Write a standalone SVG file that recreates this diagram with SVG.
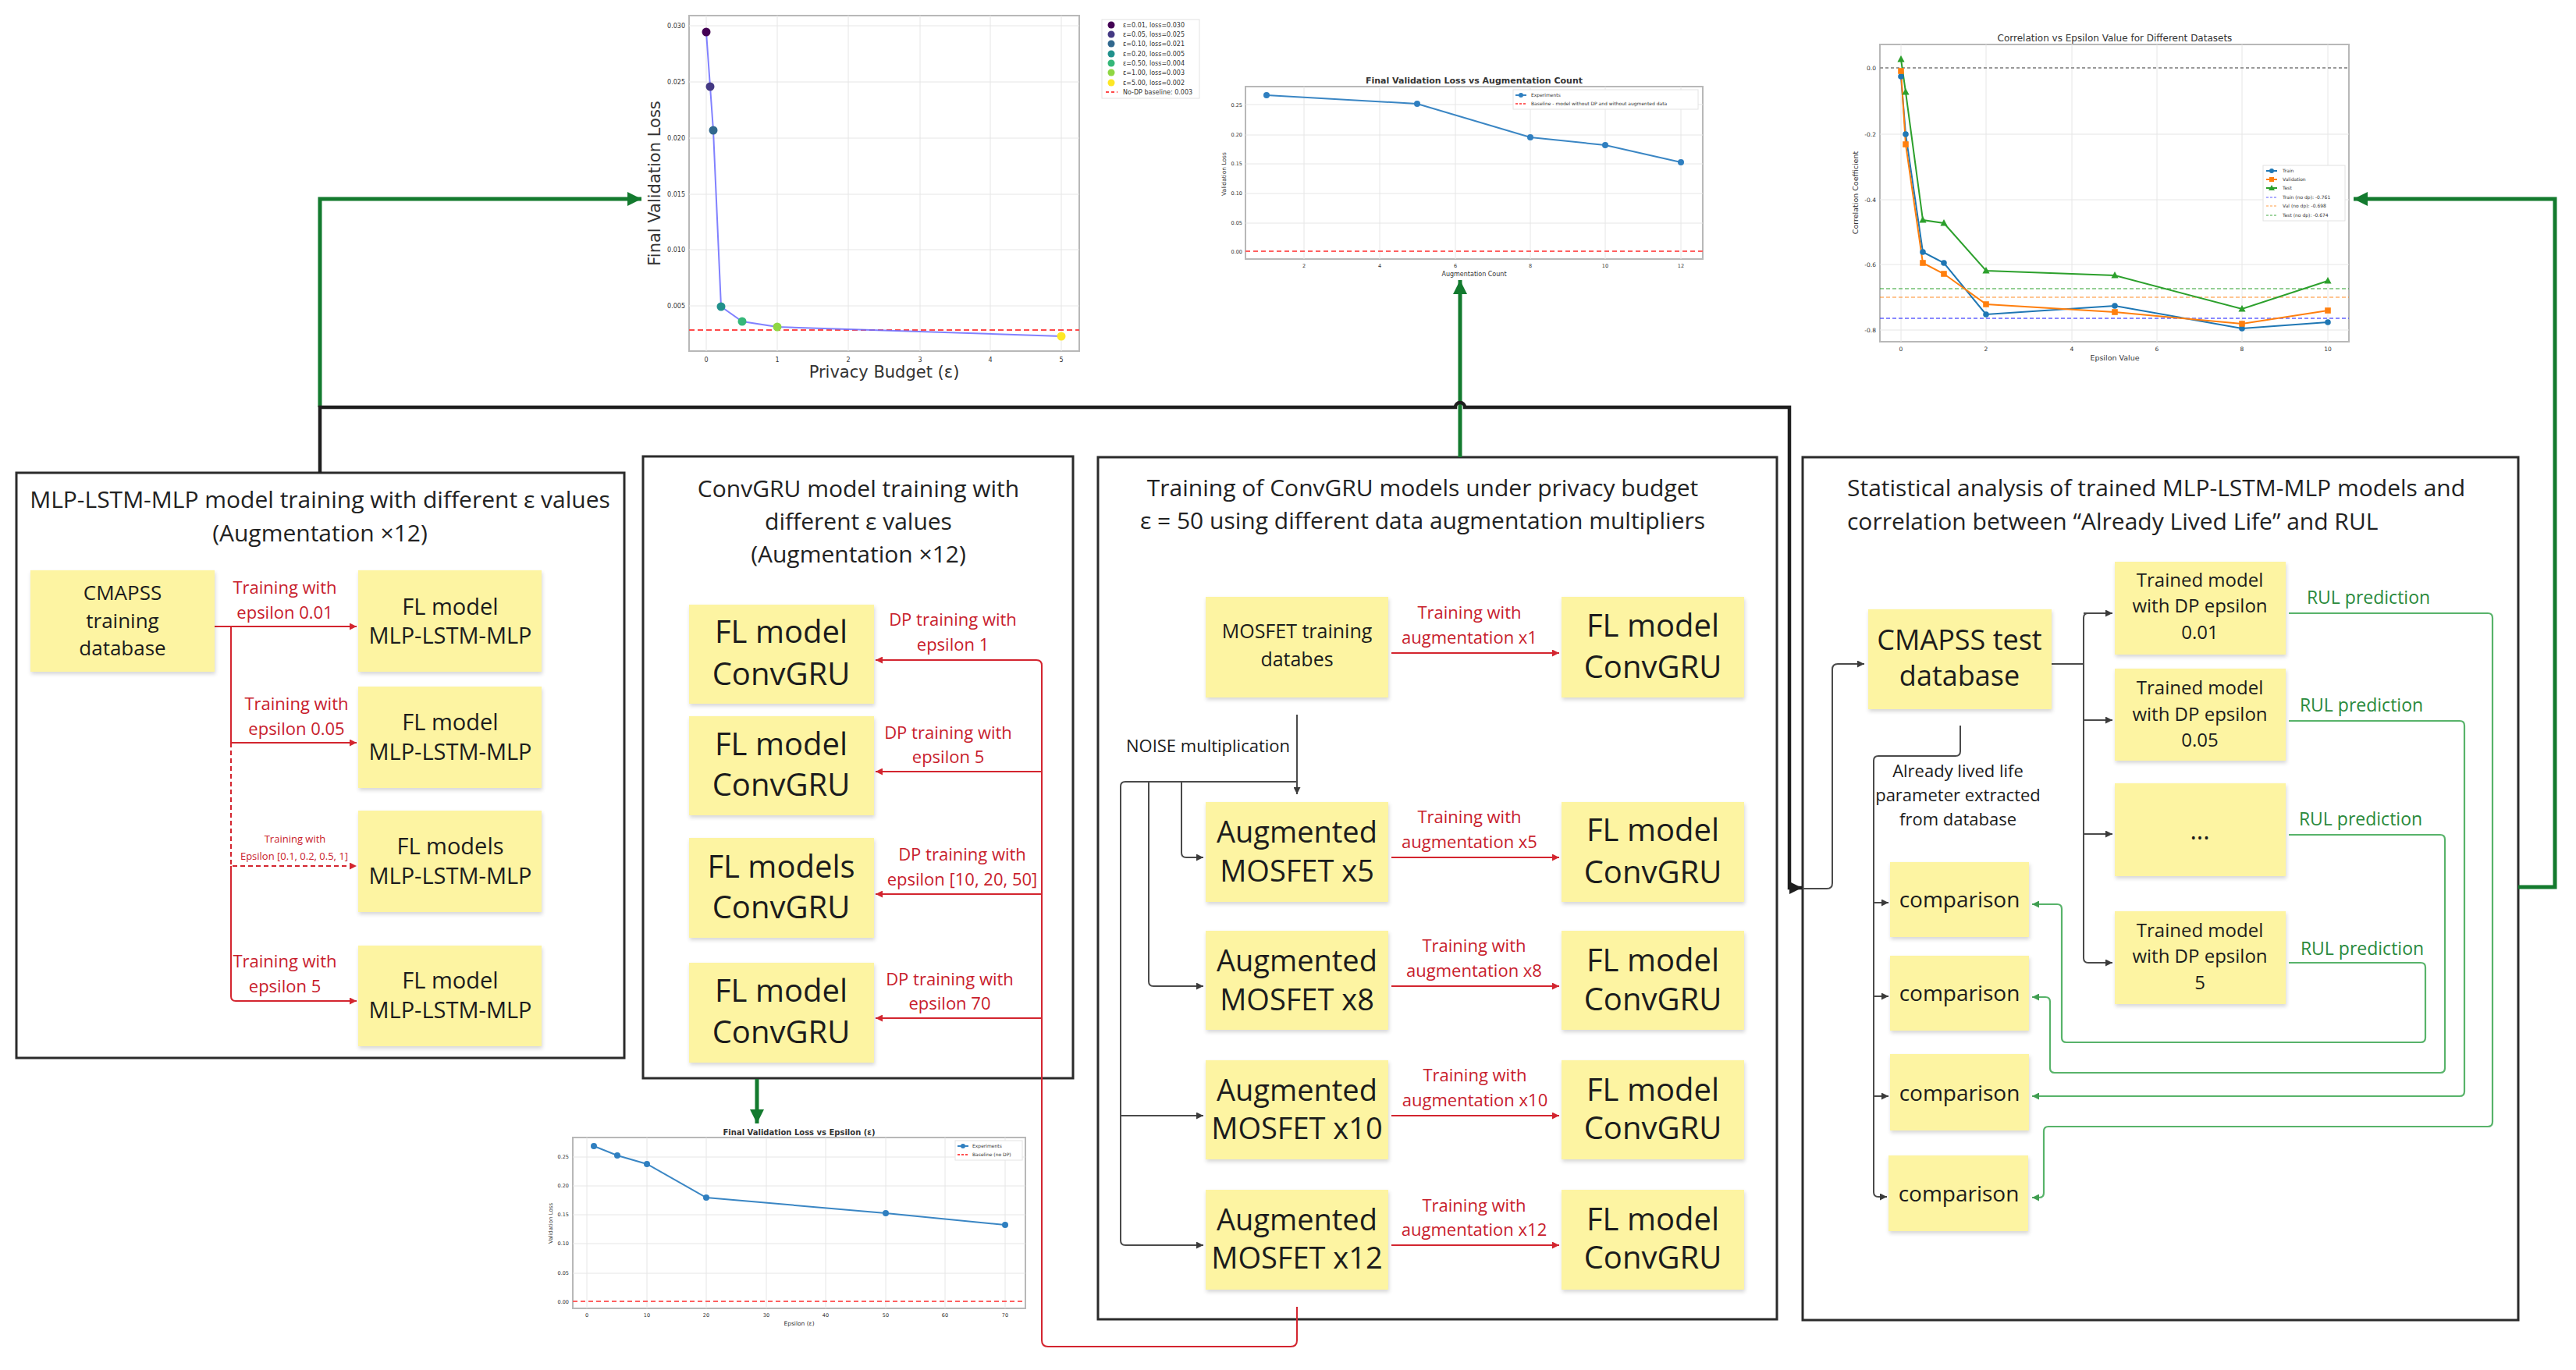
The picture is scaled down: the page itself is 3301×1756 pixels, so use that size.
<svg xmlns="http://www.w3.org/2000/svg" xmlns:xlink="http://www.w3.org/1999/xlink" width="3301" height="1756" viewBox="0 0 3301 1756">
<style>
.note{fill:#fdf4a2;filter:url(#sh)}
.nt{font-family:"Open Sans","Noto Sans",sans-serif;fill:#1c1c1c;text-anchor:middle}
.ttl{font-family:"Open Sans","Noto Sans",sans-serif;fill:#222;font-size:30px}
.panel{fill:none;stroke:#2b2b2b;stroke-width:3}
.rl{font-family:"Open Sans","Noto Sans",sans-serif;fill:#c8202c;text-anchor:middle;font-size:22px}
.rs{font-family:"Open Sans","Noto Sans",sans-serif;fill:#c8202c;text-anchor:middle;font-size:13px}
.gl{font-family:"Open Sans","Noto Sans",sans-serif;fill:#2a8a3c;text-anchor:middle;font-size:23px}
.red{fill:none;stroke:#d3252f;stroke-width:2}
.gry{fill:none;stroke:#4a4a4a;stroke-width:2}
.lgr{fill:none;stroke:#58b36a;stroke-width:2.2}
.blk{fill:none;stroke:#1e1e1e;stroke-width:4.5}
.grn{fill:none;stroke:#137a2e;stroke-width:5}
.ct{font-family:"DejaVu Sans","Liberation Sans",sans-serif;fill:#333}
.grid{stroke:#e6e6e6;stroke-width:1}
.frame{fill:#fff;stroke:#b8b8b8;stroke-width:2}
</style>
<defs>
<filter id="sh" x="-5%" y="-5%" width="112%" height="120%"><feDropShadow dx="1" dy="3" stdDeviation="2.5" flood-color="#000" flood-opacity="0.16"/></filter>
<marker id="aR" viewBox="0 0 10 10" refX="10" refY="5" markerWidth="10" markerHeight="9" markerUnits="userSpaceOnUse" orient="auto"><path d="M0,0 L10,5 L0,10 z" fill="#d3252f"/></marker>
<marker id="aG" viewBox="0 0 10 10" refX="10" refY="5" markerWidth="10" markerHeight="9" markerUnits="userSpaceOnUse" orient="auto"><path d="M0,0 L10,5 L0,10 z" fill="#3a3a3a"/></marker>
<marker id="aL" viewBox="0 0 10 10" refX="10" refY="5" markerWidth="10" markerHeight="9" markerUnits="userSpaceOnUse" orient="auto"><path d="M0,0 L10,5 L0,10 z" fill="#3f9d50"/></marker>
<marker id="aB" viewBox="0 0 10 10" refX="10" refY="5" markerWidth="18" markerHeight="16" markerUnits="userSpaceOnUse" orient="auto"><path d="M0,0 L10,5 L0,10 z" fill="#1e1e1e"/></marker>
<marker id="aK" viewBox="0 0 10 10" refX="10" refY="5" markerWidth="18" markerHeight="22" markerUnits="userSpaceOnUse" orient="auto"><path d="M0,0 L10,5 L0,10 z" fill="#137a2e"/></marker>
<path id="tri" d="M0,-5 L4.6,3.6 L-4.6,3.6 Z"/>
<rect id="sq" x="-3.8" y="-3.8" width="7.6" height="7.6"/>
</defs>
<rect x="0" y="0" width="3301" height="1756" fill="#fff"/>

<!-- Chart: Final validation loss vs privacy budget -->
<g id="chart-privacy">
<rect class="frame" x="883" y="20" width="500" height="430"/>
<g class="grid">
<line x1="905" y1="20" x2="905" y2="450"/><line x1="996" y1="20" x2="996" y2="450"/><line x1="1087" y1="20" x2="1087" y2="450"/><line x1="1179" y1="20" x2="1179" y2="450"/><line x1="1269" y1="20" x2="1269" y2="450"/><line x1="1360" y1="20" x2="1360" y2="450"/>
<line x1="883" y1="33" x2="1383" y2="33"/><line x1="883" y1="105" x2="1383" y2="105"/><line x1="883" y1="177" x2="1383" y2="177"/><line x1="883" y1="249" x2="1383" y2="249"/><line x1="883" y1="320" x2="1383" y2="320"/><line x1="883" y1="392" x2="1383" y2="392"/>
</g>
<g class="ct" font-size="8" text-anchor="end">
<text x="878" y="36">0.030</text><text x="878" y="108">0.025</text><text x="878" y="180">0.020</text><text x="878" y="252">0.015</text><text x="878" y="323">0.010</text><text x="878" y="395">0.005</text>
</g>
<g class="ct" font-size="8" text-anchor="middle">
<text x="905" y="464">0</text><text x="996" y="464">1</text><text x="1087" y="464">2</text><text x="1179" y="464">3</text><text x="1269" y="464">4</text><text x="1360" y="464">5</text>
</g>
<line x1="883" y1="423" x2="1383" y2="423" stroke="#ff4a4a" stroke-width="2" stroke-dasharray="7 4"/>
<polyline points="905,41 910,111 914,167 924,393 951,412 996,419 1360,431" fill="none" stroke="#6b6bff" stroke-width="2" opacity="0.85"/>
<circle cx="905" cy="41" r="5.5" fill="#440154"/><circle cx="910" cy="111" r="5.5" fill="#443983"/><circle cx="914" cy="167" r="5.5" fill="#31688e"/><circle cx="924" cy="393" r="5.5" fill="#21918c"/><circle cx="951" cy="412" r="5.5" fill="#35b779"/><circle cx="996" cy="419" r="5.5" fill="#90d743"/><circle cx="1360" cy="431" r="5.5" fill="#fde725"/>
<rect x="1412" y="25" width="125" height="101" fill="#fff" stroke="#e2e2e2" stroke-width="1"/>
<circle cx="1424" cy="32" r="4.5" fill="#440154"/><circle cx="1424" cy="44" r="4.5" fill="#443983"/><circle cx="1424" cy="56" r="4.5" fill="#31688e"/><circle cx="1424" cy="69" r="4.5" fill="#21918c"/><circle cx="1424" cy="81" r="4.5" fill="#35b779"/><circle cx="1424" cy="93" r="4.5" fill="#90d743"/><circle cx="1424" cy="106" r="4.5" fill="#fde725"/>
<line x1="1417" y1="118" x2="1432" y2="118" stroke="#ff4a4a" stroke-width="2" stroke-dasharray="4 3"/>
<g class="ct" font-size="8">
<text x="1439" y="35">ε=0.01, loss=0.030</text><text x="1439" y="47">ε=0.05, loss=0.025</text><text x="1439" y="59">ε=0.10, loss=0.021</text><text x="1439" y="72">ε=0.20, loss=0.005</text><text x="1439" y="84">ε=0.50, loss=0.004</text><text x="1439" y="96">ε=1.00, loss=0.003</text><text x="1439" y="109">ε=5.00, loss=0.002</text><text x="1439" y="121">No-DP baseline: 0.003</text>
</g>
<text class="ct" font-size="21" text-anchor="middle" x="1133" y="484">Privacy Budget (ε)</text>
<text class="ct" font-size="21" text-anchor="middle" transform="translate(846,235) rotate(-90)">Final Validation Loss</text>
</g>

<!-- Chart: Final validation loss vs augmentation count -->
<g id="chart-augmentation">
<text class="ct" font-size="11" font-weight="bold" text-anchor="middle" x="1889" y="107" fill="#111">Final Validation Loss vs Augmentation Count</text>
<rect class="frame" x="1596" y="111" width="586" height="221"/>
<g class="grid">
<line x1="1671" y1="111" x2="1671" y2="332"/><line x1="1768" y1="111" x2="1768" y2="332"/><line x1="1865" y1="111" x2="1865" y2="332"/><line x1="1961" y1="111" x2="1961" y2="332"/><line x1="2057" y1="111" x2="2057" y2="332"/><line x1="2154" y1="111" x2="2154" y2="332"/>
<line x1="1596" y1="134" x2="2182" y2="134"/><line x1="1596" y1="173" x2="2182" y2="173"/><line x1="1596" y1="210" x2="2182" y2="210"/><line x1="1596" y1="248" x2="2182" y2="248"/><line x1="1596" y1="286" x2="2182" y2="286"/>
</g>
<g class="ct" font-size="6.5" text-anchor="end">
<text x="1592" y="137">0.25</text><text x="1592" y="175">0.20</text><text x="1592" y="212">0.15</text><text x="1592" y="250">0.10</text><text x="1592" y="288">0.05</text><text x="1592" y="325">0.00</text>
</g>
<g class="ct" font-size="6.5" text-anchor="middle">
<text x="1671" y="343">2</text><text x="1768" y="343">4</text><text x="1865" y="343">6</text><text x="1961" y="343">8</text><text x="2057" y="343">10</text><text x="2154" y="343">12</text>
</g>
<line x1="1596" y1="322" x2="2182" y2="322" stroke="#ff6060" stroke-width="2" stroke-dasharray="6 4"/>
<polyline points="1623,122 1816,133 1961,176 2057,186 2154,208" fill="none" stroke="#3a86c4" stroke-width="2"/>
<g fill="#2f7fc0"><circle cx="1623" cy="122" r="4"/><circle cx="1816" cy="133" r="4"/><circle cx="1961" cy="176" r="4"/><circle cx="2057" cy="186" r="4"/><circle cx="2154" cy="208" r="4"/></g>
<rect x="1939" y="115" width="237" height="25" fill="#fff" stroke="#e4e4e4" stroke-width="1"/>
<line x1="1942" y1="122" x2="1956" y2="122" stroke="#3a86c4" stroke-width="2"/><circle cx="1949" cy="122" r="3" fill="#2f7fc0"/>
<line x1="1942" y1="133" x2="1956" y2="133" stroke="#ff6060" stroke-width="2" stroke-dasharray="3 2"/>
<g class="ct" font-size="6"><text x="1962" y="124">Experiments</text><text x="1962" y="135">Baseline - model without DP and without augmented data</text></g>
<text class="ct" font-size="8" text-anchor="middle" x="1889" y="354">Augmentation Count</text>
<text class="ct" font-size="7.5" text-anchor="middle" transform="translate(1571,223) rotate(-90)">Validation Loss</text>
</g>

<!-- Chart: Correlation vs epsilon -->
<g id="chart-correlation">
<text class="ct" font-size="12" text-anchor="middle" x="2710" y="53">Correlation vs Epsilon Value for Different Datasets</text>
<rect class="frame" x="2409" y="57" width="601" height="381"/>
<g class="grid">
<line x1="2436" y1="57" x2="2436" y2="438"/><line x1="2545" y1="57" x2="2545" y2="438"/><line x1="2655" y1="57" x2="2655" y2="438"/><line x1="2764" y1="57" x2="2764" y2="438"/><line x1="2873" y1="57" x2="2873" y2="438"/><line x1="2983" y1="57" x2="2983" y2="438"/>
<line x1="2409" y1="172" x2="3010" y2="172"/><line x1="2409" y1="256" x2="3010" y2="256"/><line x1="2409" y1="339" x2="3010" y2="339"/><line x1="2409" y1="423" x2="3010" y2="423"/>
</g>
<g class="ct" font-size="7.5" text-anchor="end">
<text x="2404" y="90">0.0</text><text x="2404" y="175">-0.2</text><text x="2404" y="259">-0.4</text><text x="2404" y="342">-0.6</text><text x="2404" y="426">-0.8</text>
</g>
<g class="ct" font-size="7.5" text-anchor="middle">
<text x="2436" y="450">0</text><text x="2545" y="450">2</text><text x="2655" y="450">4</text><text x="2764" y="450">6</text><text x="2873" y="450">8</text><text x="2983" y="450">10</text>
</g>
<line x1="2409" y1="87" x2="3010" y2="87" stroke="#9a9a9a" stroke-width="2" stroke-dasharray="4 3"/>
<line x1="2409" y1="370" x2="3010" y2="370" stroke="#2ca02c" stroke-width="2" stroke-dasharray="5 3" opacity="0.5"/>
<line x1="2409" y1="381" x2="3010" y2="381" stroke="#ff7f0e" stroke-width="2" stroke-dasharray="5 3" opacity="0.45"/>
<line x1="2409" y1="408" x2="3010" y2="408" stroke="#4a4aff" stroke-width="2" stroke-dasharray="5 3" opacity="0.65"/>
<polyline points="2436,98 2442,172 2464,323 2491,337 2545,403 2710,392 2873,421 2983,413" fill="none" stroke="#1f77b4" stroke-width="2"/>
<polyline points="2436,91 2442,185 2464,337 2491,351 2545,390 2710,400 2873,415 2983,398" fill="none" stroke="#ff7f0e" stroke-width="2"/>
<polyline points="2436,76 2442,118 2464,282 2491,286 2545,347 2710,353 2873,396 2983,360" fill="none" stroke="#2ca02c" stroke-width="2"/>
<g fill="#1f77b4"><circle cx="2436" cy="98" r="3.8"/><circle cx="2442" cy="172" r="3.8"/><circle cx="2464" cy="323" r="3.8"/><circle cx="2491" cy="337" r="3.8"/><circle cx="2545" cy="403" r="3.8"/><circle cx="2710" cy="392" r="3.8"/><circle cx="2873" cy="421" r="3.8"/><circle cx="2983" cy="413" r="3.8"/></g>
<g fill="#ff7f0e"><use href="#sq" x="2436" y="91"/><use href="#sq" x="2442" y="185"/><use href="#sq" x="2464" y="337"/><use href="#sq" x="2491" y="351"/><use href="#sq" x="2545" y="390"/><use href="#sq" x="2710" y="400"/><use href="#sq" x="2873" y="415"/><use href="#sq" x="2983" y="398"/></g>
<g fill="#2ca02c"><use href="#tri" x="2436" y="76"/><use href="#tri" x="2442" y="118"/><use href="#tri" x="2464" y="282"/><use href="#tri" x="2491" y="286"/><use href="#tri" x="2545" y="347"/><use href="#tri" x="2710" y="353"/><use href="#tri" x="2873" y="396"/><use href="#tri" x="2983" y="360"/></g>
<rect x="2900" y="212" width="105" height="71" fill="#fff" stroke="#e2e2e2" stroke-width="1"/>
<line x1="2904" y1="219" x2="2918" y2="219" stroke="#1f77b4" stroke-width="2"/><circle cx="2911" cy="219" r="3" fill="#1f77b4"/>
<line x1="2904" y1="230" x2="2918" y2="230" stroke="#ff7f0e" stroke-width="2"/><rect x="2908" y="227" width="6" height="6" fill="#ff7f0e"/>
<line x1="2904" y1="241" x2="2918" y2="241" stroke="#2ca02c" stroke-width="2"/><path d="M2911,237 L2915,244 L2907,244 Z" fill="#2ca02c"/>
<line x1="2904" y1="253" x2="2918" y2="253" stroke="#4a4aff" stroke-width="1.5" stroke-dasharray="3 2" opacity="0.6"/>
<line x1="2904" y1="264" x2="2918" y2="264" stroke="#ff7f0e" stroke-width="1.5" stroke-dasharray="3 2" opacity="0.5"/>
<line x1="2904" y1="276" x2="2918" y2="276" stroke="#2ca02c" stroke-width="1.5" stroke-dasharray="3 2" opacity="0.6"/>
<g class="ct" font-size="6"><text x="2925" y="221">Train</text><text x="2925" y="232">Validation</text><text x="2925" y="243">Test</text><text x="2925" y="255">Train (no dp): -0.761</text><text x="2925" y="266">Val (no dp): -0.698</text><text x="2925" y="278">Test (no dp): -0.674</text></g>
<text class="ct" font-size="9.5" text-anchor="middle" x="2710" y="462">Epsilon Value</text>
<text class="ct" font-size="9.5" text-anchor="middle" transform="translate(2381,247) rotate(-90)">Correlation Coefficient</text>
</g>

<!-- Chart: Final validation loss vs epsilon (ConvGRU) -->
<g id="chart-epsilon">
<text class="ct" font-size="10" font-weight="bold" text-anchor="middle" x="1024" y="1455" fill="#111">Final Validation Loss vs Epsilon (ε)</text>
<rect class="frame" x="734" y="1458" width="580" height="219"/>
<g class="grid">
<line x1="752" y1="1458" x2="752" y2="1677"/><line x1="829" y1="1458" x2="829" y2="1677"/><line x1="905" y1="1458" x2="905" y2="1677"/><line x1="982" y1="1458" x2="982" y2="1677"/><line x1="1058" y1="1458" x2="1058" y2="1677"/><line x1="1135" y1="1458" x2="1135" y2="1677"/><line x1="1211" y1="1458" x2="1211" y2="1677"/><line x1="1288" y1="1458" x2="1288" y2="1677"/>
<line x1="734" y1="1483" x2="1314" y2="1483"/><line x1="734" y1="1520" x2="1314" y2="1520"/><line x1="734" y1="1557" x2="1314" y2="1557"/><line x1="734" y1="1594" x2="1314" y2="1594"/><line x1="734" y1="1632" x2="1314" y2="1632"/>
</g>
<g class="ct" font-size="6.5" text-anchor="end">
<text x="729" y="1485">0.25</text><text x="729" y="1522">0.20</text><text x="729" y="1559">0.15</text><text x="729" y="1596">0.10</text><text x="729" y="1634">0.05</text><text x="729" y="1671">0.00</text>
</g>
<g class="ct" font-size="6.5" text-anchor="middle">
<text x="752" y="1688">0</text><text x="829" y="1688">10</text><text x="905" y="1688">20</text><text x="982" y="1688">30</text><text x="1058" y="1688">40</text><text x="1135" y="1688">50</text><text x="1211" y="1688">60</text><text x="1288" y="1688">70</text>
</g>
<line x1="734" y1="1668" x2="1314" y2="1668" stroke="#ff6060" stroke-width="2" stroke-dasharray="6 4"/>
<polyline points="761,1469 791,1481 829,1492 905,1535 1135,1555 1288,1570" fill="none" stroke="#3a86c4" stroke-width="2"/>
<g fill="#2f7fc0"><circle cx="761" cy="1469" r="4"/><circle cx="791" cy="1481" r="4"/><circle cx="829" cy="1492" r="4"/><circle cx="905" cy="1535" r="4"/><circle cx="1135" cy="1555" r="4"/><circle cx="1288" cy="1570" r="4"/></g>
<rect x="1224" y="1462" width="86" height="25" fill="#fff" stroke="#e4e4e4" stroke-width="1"/>
<line x1="1227" y1="1469" x2="1241" y2="1469" stroke="#3a86c4" stroke-width="2"/><circle cx="1234" cy="1469" r="3" fill="#2f7fc0"/>
<line x1="1227" y1="1480" x2="1241" y2="1480" stroke="#ff4a4a" stroke-width="2" stroke-dasharray="3 2"/>
<g class="ct" font-size="6"><text x="1246" y="1471">Experiments</text><text x="1246" y="1482">Baseline (no DP)</text></g>
<text class="ct" font-size="7.5" text-anchor="middle" x="1024" y="1699">Epsilon (ε)</text>
<text class="ct" font-size="7" text-anchor="middle" transform="translate(708,1568) rotate(-90)">Validation Loss</text>
</g>

<!-- Panels -->
<g id="panel-mlp">
<rect class="panel" x="21" y="606" width="779" height="750"/>
<text class="ttl" text-anchor="middle" x="410" y="651">MLP-LSTM-MLP model training with different ε values</text>
<text class="ttl" text-anchor="middle" x="410" y="694">(Augmentation ×12)</text>
</g>
<g id="panel-convgru">
<rect class="panel" x="824" y="585" width="551" height="797"/>
<text class="ttl" text-anchor="middle" x="1100" y="637">ConvGRU model training with</text>
<text class="ttl" text-anchor="middle" x="1100" y="679">different ε values</text>
<text class="ttl" text-anchor="middle" x="1100" y="721">(Augmentation ×12)</text>
</g>
<g id="panel-augmentation">
<rect class="panel" x="1407" y="586" width="870" height="1105"/>
<text class="ttl" text-anchor="middle" x="1823" y="636">Training of ConvGRU models under privacy budget</text>
<text class="ttl" text-anchor="middle" x="1823" y="678">ε = 50 using different data augmentation multipliers</text>
</g>
<g id="panel-statistics">
<rect class="panel" x="2310" y="586" width="917" height="1106"/>
<text class="ttl" x="2367" y="636">Statistical analysis of trained MLP-LSTM-MLP models and</text>
<text class="ttl" x="2367" y="679">correlation between “Already Lived Life” and RUL</text>
</g>

<!-- Connectors -->
<g id="connectors">
<path class="grn" d="M410,522 V255 H822" marker-end="url(#aK)"/>
<path class="grn" d="M1871,586 V359" marker-end="url(#aK)"/>
<path class="grn" d="M3227,1137 H3274 V255 H3016" marker-end="url(#aK)"/>
<path class="grn" d="M970,1383 V1440" marker-end="url(#aK)"/>
<path class="blk" d="M410,606 V522 H1865 a6,6 0 0 1 12,0 H2293 V1138 H2309" marker-end="url(#aB)"/>
<path class="gry" stroke-width="2.5" d="M2310,1139 H2341 Q2348,1139 2348,1132 V858 Q2348,851 2355,851 H2389" marker-end="url(#aG)"/>

<path class="red" d="M275,803 H457" marker-end="url(#aR)"/>
<path class="red" d="M296,803 V952 H457" marker-end="url(#aR)"/>
<path class="red" d="M296,952 V1110 H457" stroke-dasharray="6 4" marker-end="url(#aR)"/>
<path class="red" d="M296,1110 V1277 Q296,1283 302,1283 H457" marker-end="url(#aR)"/>

<path class="red" d="M1662,1675 V1718 Q1662,1726 1654,1726 H1343 Q1335,1726 1335,1718 V853 Q1335,846 1328,846 H1122" marker-end="url(#aR)"/>
<path class="red" d="M1335,989 H1122" marker-end="url(#aR)"/>
<path class="red" d="M1335,1146 H1122" marker-end="url(#aR)"/>
<path class="red" d="M1335,1305 H1122" marker-end="url(#aR)"/>

<path class="red" d="M1783,837 H1998" marker-end="url(#aR)"/>
<path class="red" d="M1783,1099 H1998" marker-end="url(#aR)"/>
<path class="red" d="M1783,1264 H1998" marker-end="url(#aR)"/>
<path class="red" d="M1783,1430 H1998" marker-end="url(#aR)"/>
<path class="red" d="M1783,1596 H1998" marker-end="url(#aR)"/>

<path class="gry" d="M1662,916 V1018" marker-end="url(#aG)"/>
<path class="gry" d="M1662,1002 H1442 Q1436,1002 1436,1008 V1590 Q1436,1596 1442,1596 H1542" marker-end="url(#aG)"/>
<path class="gry" d="M1514,1002 V1093 Q1514,1099 1520,1099 H1542" marker-end="url(#aG)"/>
<path class="gry" d="M1472,1002 V1258 Q1472,1264 1478,1264 H1542" marker-end="url(#aG)"/>
<path class="gry" d="M1436,1430 H1542" marker-end="url(#aG)"/>

<path class="gry" stroke-width="3.5" d="M2629,851 H2670"/>
<path class="gry" d="M2707,786 H2676 Q2670,786 2670,792 V1228 Q2670,1234 2676,1234 H2707" marker-end="url(#aG)"/>
<path class="gry" d="M2670,786 H2707" marker-end="url(#aG)"/>
<path class="gry" d="M2670,923 H2707" marker-end="url(#aG)"/>
<path class="gry" d="M2670,1069 H2707" marker-end="url(#aG)"/>

<path class="gry" stroke-width="2.5" d="M2512,930 V963 Q2512,969 2506,969 H2407 Q2401,969 2401,975 V1528 Q2401,1534 2407,1534 H2418" marker-end="url(#aG)"/>
<path class="gry" d="M2401,1157 H2420" marker-end="url(#aG)"/>
<path class="gry" d="M2401,1277 H2420" marker-end="url(#aG)"/>
<path class="gry" d="M2401,1405 H2420" marker-end="url(#aG)"/>

<path class="lgr" d="M2933,786 H3188 Q3194,786 3194,792 V1438 Q3194,1444 3188,1444 H2625 Q2619,1444 2619,1450 V1529 Q2619,1535 2613,1535 H2604" marker-end="url(#aL)"/>
<path class="lgr" d="M2933,924 H3152 Q3158,924 3158,930 V1399 Q3158,1405 3152,1405 H2604" marker-end="url(#aL)"/>
<path class="lgr" d="M2933,1070 H3127 Q3133,1070 3133,1076 V1369 Q3133,1375 3127,1375 H2633 Q2627,1375 2627,1369 V1284 Q2627,1278 2621,1278 H2604" marker-end="url(#aL)"/>
<path class="lgr" d="M2933,1234 H3102 Q3108,1234 3108,1240 V1330 Q3108,1336 3102,1336 H2648 Q2642,1336 2642,1330 V1165 Q2642,1159 2636,1159 H2604" marker-end="url(#aL)"/>

<text class="rl" x="365" y="761">Training with</text><text class="rl" x="365" y="793">epsilon 0.01</text>
<text class="rl" x="380" y="910">Training with</text><text class="rl" x="380" y="942">epsilon 0.05</text>
<text class="rs" x="378" y="1080">Training with</text><text class="rs" x="377" y="1102">Epsilon [0.1, 0.2, 0.5, 1]</text>
<text class="rl" x="365" y="1240">Training with</text><text class="rl" x="365" y="1272">epsilon 5</text>

<text class="rl" x="1221" y="802">DP training with</text><text class="rl" x="1221" y="834">epsilon 1</text>
<text class="rl" x="1215" y="947">DP training with</text><text class="rl" x="1215" y="978">epsilon 5</text>
<text class="rl" x="1233" y="1103">DP training with</text><text class="rl" x="1233" y="1135">epsilon [10, 20, 50]</text>
<text class="rl" x="1217" y="1263">DP training with</text><text class="rl" x="1217" y="1294">epsilon 70</text>

<text class="rl" x="1883" y="793">Training with</text><text class="rl" x="1883" y="825">augmentation x1</text>
<text class="rl" x="1883" y="1055">Training with</text><text class="rl" x="1883" y="1087">augmentation x5</text>
<text class="rl" x="1889" y="1220">Training with</text><text class="rl" x="1889" y="1252">augmentation x8</text>
<text class="rl" x="1890" y="1386">Training with</text><text class="rl" x="1890" y="1418">augmentation x10</text>
<text class="rl" x="1889" y="1553">Training with</text><text class="rl" x="1889" y="1584">augmentation x12</text>

<text class="nt" x="1548" y="964" font-size="22">NOISE multiplication</text>
<text class="nt" x="2509" y="996" font-size="22">Already lived life</text>
<text class="nt" x="2509" y="1027" font-size="22">parameter extracted</text>
<text class="nt" x="2509" y="1058" font-size="22">from database</text>

<text class="gl" x="3035" y="774">RUL prediction</text>
<text class="gl" x="3026" y="912">RUL prediction</text>
<text class="gl" x="3025" y="1058">RUL prediction</text>
<text class="gl" x="3027" y="1224">RUL prediction</text>
</g>

<!-- Nodes: MLP panel -->
<g id="cmapss-train"><rect class="note" x="39" y="731" width="236" height="130"/><text class="nt" font-size="26" x="157" y="769">CMAPSS</text><text class="nt" font-size="26" x="157" y="805">training</text><text class="nt" font-size="26" x="157" y="840">database</text></g>
<g id="mlp-1"><rect class="note" x="459" y="731" width="235" height="130"/><text class="nt" font-size="29" x="577" y="788">FL model</text><text class="nt" font-size="29" x="577" y="825">MLP-LSTM-MLP</text></g>
<g id="mlp-2"><rect class="note" x="459" y="880" width="235" height="130"/><text class="nt" font-size="29" x="577" y="936">FL model</text><text class="nt" font-size="29" x="577" y="974">MLP-LSTM-MLP</text></g>
<g id="mlp-3"><rect class="note" x="459" y="1039" width="235" height="130"/><text class="nt" font-size="29" x="577" y="1095">FL models</text><text class="nt" font-size="29" x="577" y="1133">MLP-LSTM-MLP</text></g>
<g id="mlp-4"><rect class="note" x="459" y="1212" width="235" height="129"/><text class="nt" font-size="29" x="577" y="1267">FL model</text><text class="nt" font-size="29" x="577" y="1305">MLP-LSTM-MLP</text></g>

<!-- Nodes: ConvGRU panel -->
<g id="cg-1"><rect class="note" x="883" y="775" width="237" height="127"/><text class="nt" font-size="40" x="1001" y="824">FL model</text><text class="nt" font-size="40" x="1001" y="878">ConvGRU</text></g>
<g id="cg-2"><rect class="note" x="883" y="918" width="237" height="127"/><text class="nt" font-size="40" x="1001" y="968">FL model</text><text class="nt" font-size="40" x="1001" y="1020">ConvGRU</text></g>
<g id="cg-3"><rect class="note" x="883" y="1074" width="237" height="128"/><text class="nt" font-size="40" x="1001" y="1125">FL models</text><text class="nt" font-size="40" x="1001" y="1177">ConvGRU</text></g>
<g id="cg-4"><rect class="note" x="883" y="1234" width="237" height="128"/><text class="nt" font-size="40" x="1001" y="1284">FL model</text><text class="nt" font-size="40" x="1001" y="1337">ConvGRU</text></g>

<!-- Nodes: augmentation panel -->
<g id="mosfet-db"><rect class="note" x="1545" y="765" width="234" height="129"/><text class="nt" font-size="25" x="1662" y="818">MOSFET training</text><text class="nt" font-size="25" x="1662" y="854">databes</text></g>
<g id="aug-fl-1"><rect class="note" x="2001" y="765" width="234" height="129"/><text class="nt" font-size="40" x="2118" y="816">FL model</text><text class="nt" font-size="40" x="2118" y="869">ConvGRU</text></g>
<g id="aug-5"><rect class="note" x="1545" y="1028" width="234" height="128"/><text class="nt" font-size="38" x="1662" y="1080">Augmented</text><text class="nt" font-size="38" x="1662" y="1130">MOSFET x5</text></g>
<g id="aug-fl-5"><rect class="note" x="2001" y="1028" width="234" height="128"/><text class="nt" font-size="40" x="2118" y="1078">FL model</text><text class="nt" font-size="40" x="2118" y="1132">ConvGRU</text></g>
<g id="aug-8"><rect class="note" x="1545" y="1193" width="234" height="127"/><text class="nt" font-size="38" x="1662" y="1245">Augmented</text><text class="nt" font-size="38" x="1662" y="1295">MOSFET x8</text></g>
<g id="aug-fl-8"><rect class="note" x="2001" y="1193" width="234" height="127"/><text class="nt" font-size="40" x="2118" y="1245">FL model</text><text class="nt" font-size="40" x="2118" y="1295">ConvGRU</text></g>
<g id="aug-10"><rect class="note" x="1545" y="1359" width="234" height="127"/><text class="nt" font-size="38" x="1662" y="1411">Augmented</text><text class="nt" font-size="38" x="1662" y="1460">MOSFET x10</text></g>
<g id="aug-fl-10"><rect class="note" x="2001" y="1359" width="234" height="127"/><text class="nt" font-size="40" x="2118" y="1411">FL model</text><text class="nt" font-size="40" x="2118" y="1460">ConvGRU</text></g>
<g id="aug-12"><rect class="note" x="1545" y="1525" width="234" height="128"/><text class="nt" font-size="38" x="1662" y="1577">Augmented</text><text class="nt" font-size="38" x="1662" y="1626">MOSFET x12</text></g>
<g id="aug-fl-12"><rect class="note" x="2001" y="1525" width="234" height="128"/><text class="nt" font-size="40" x="2118" y="1577">FL model</text><text class="nt" font-size="40" x="2118" y="1626">ConvGRU</text></g>

<!-- Nodes: statistics panel -->
<g id="cmapss-test"><rect class="note" x="2394" y="781" width="235" height="128"/><text class="nt" font-size="36" x="2511" y="833">CMAPSS test</text><text class="nt" font-size="36" x="2511" y="879">database</text></g>
<g id="trained-1"><rect class="note" x="2710" y="720" width="219" height="119"/><text class="nt" font-size="24" x="2819" y="752">Trained model</text><text class="nt" font-size="24" x="2819" y="785">with DP epsilon</text><text class="nt" font-size="24" x="2819" y="819">0.01</text></g>
<g id="trained-2"><rect class="note" x="2710" y="857" width="219" height="118"/><text class="nt" font-size="24" x="2819" y="890">Trained model</text><text class="nt" font-size="24" x="2819" y="924">with DP epsilon</text><text class="nt" font-size="24" x="2819" y="957">0.05</text></g>
<g id="trained-3"><rect class="note" x="2710" y="1004" width="219" height="119"/><text class="nt" font-size="32" x="2819" y="1076">...</text></g>
<g id="trained-4"><rect class="note" x="2710" y="1168" width="219" height="119"/><text class="nt" font-size="24" x="2819" y="1201">Trained model</text><text class="nt" font-size="24" x="2819" y="1234">with DP epsilon</text><text class="nt" font-size="24" x="2819" y="1268">5</text></g>
<g id="comparison-1"><rect class="note" x="2422" y="1105" width="178" height="96"/><text class="nt" font-size="28" x="2511" y="1163">comparison</text></g>
<g id="comparison-2"><rect class="note" x="2422" y="1225" width="178" height="96"/><text class="nt" font-size="28" x="2511" y="1283">comparison</text></g>
<g id="comparison-3"><rect class="note" x="2422" y="1351" width="178" height="98"/><text class="nt" font-size="28" x="2511" y="1411">comparison</text></g>
<g id="comparison-4"><rect class="note" x="2420" y="1481" width="179" height="97"/><text class="nt" font-size="28" x="2510" y="1540">comparison</text></g>
</svg>
